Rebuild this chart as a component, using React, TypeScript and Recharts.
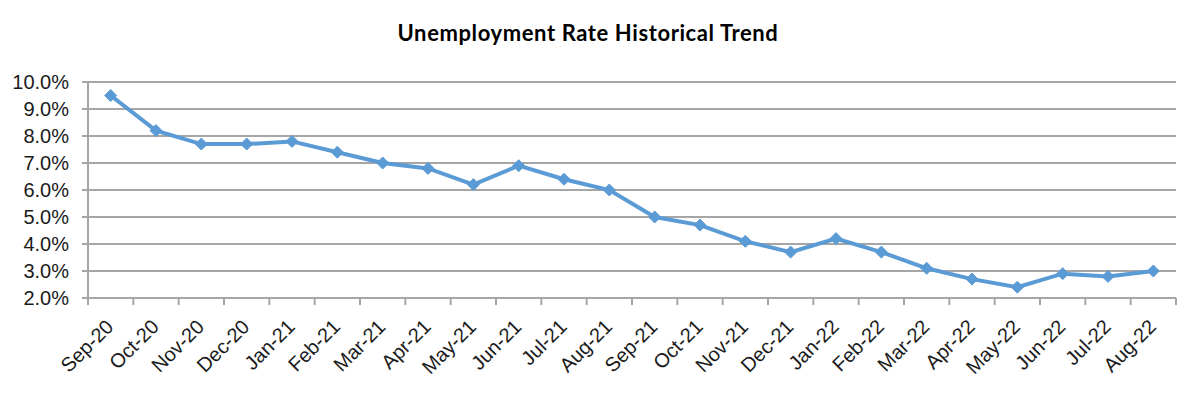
import React from "react";
import { LineChart, Line, XAxis, YAxis, CartesianGrid } from "recharts";

const months = [
  "Sep-20", "Oct-20", "Nov-20", "Dec-20", "Jan-21", "Feb-21", "Mar-21", "Apr-21",
  "May-21", "Jun-21", "Jul-21", "Aug-21", "Sep-21", "Oct-21", "Nov-21", "Dec-21",
  "Jan-22", "Feb-22", "Mar-22", "Apr-22", "May-22", "Jun-22", "Jul-22", "Aug-22",
];
const rates = [
  9.5, 8.2, 7.7, 7.7, 7.8, 7.4, 7.0, 6.8, 6.2, 6.9, 6.4, 6.0,
  5.0, 4.7, 4.1, 3.7, 4.2, 3.7, 3.1, 2.7, 2.4, 2.9, 2.8, 3.0,
];
const yTicks = [2, 3, 4, 5, 6, 7, 8, 9, 10];
const title = "Unemployment Rate Historical Trend";

const data = months.map((m, i) => ({ month: m, rate: rates[i] }));

const W = 1197;
const H = 393;
const LEFT = 88;
const RIGHT = 1176;
const TOP = 82;
const BOTTOM = 298;
const BAND = (RIGHT - LEFT) / months.length;
const GRID = "#a6a6a6";
const BLUE = "#5b9bd5";
const FONT = "'Liberation Sans', Arial, sans-serif";

const XTick = (props: any) => {
  const { x, y, payload, index } = props;
  const ax = x + 4;
  const ay = y + 30;
  return (
    <g>
      <line x1={x - BAND / 2} x2={x - BAND / 2} y1={y} y2={y + 7} stroke={GRID} strokeWidth={2} />
      {index === months.length - 1 && (
        <line x1={x + BAND / 2} x2={x + BAND / 2} y1={y} y2={y + 7} stroke={GRID} strokeWidth={2} />
      )}
      <text
        x={ax}
        y={ay}
        textAnchor="end"
        transform={`rotate(-45, ${ax}, ${ay})`}
        fontSize={20}
        fontFamily={FONT}
        fill="#1a1a1a"
      >
        {payload.value}
      </text>
    </g>
  );
};

const Diamond = (props: any) => {
  const { cx, cy } = props;
  if (cx == null || cy == null) return null;
  const r = 6;
  return (
    <polygon
      points={`${cx},${cy - r} ${cx + r},${cy} ${cx},${cy + r} ${cx - r},${cy}`}
      fill={BLUE}
      stroke={BLUE}
      strokeWidth={1}
    />
  );
};

export default function App() {
  return (
    <div style={{ position: "absolute", left: 0, top: 0, width: W, height: H, background: "#fff" }}>
      <div
        style={{
          position: "absolute",
          left: 0,
          top: 21,
          width: 1176,
          textAlign: "center",
          fontFamily: "Lato, 'Open Sans', sans-serif",
          fontWeight: 700,
          fontSize: 22,
          letterSpacing: "0.6px",
          lineHeight: "24px",
          color: "#000",
        }}
      >
        {title}
      </div>
      <LineChart
        width={W}
        height={H}
        data={data}
        margin={{ top: TOP, right: W - RIGHT, left: 0, bottom: 0 }}
      >
        <CartesianGrid horizontal vertical={false} stroke={GRID} strokeWidth={2} />
        <XAxis
          dataKey="month"
          height={H - BOTTOM}
          padding={{ left: BAND / 2, right: BAND / 2 }}
          axisLine={{ stroke: GRID, strokeWidth: 2 }}
          tickLine={false}
          tickSize={0}
          tickMargin={0}
          interval={0}
          tick={<XTick />}
        />
        <YAxis
          width={LEFT}
          domain={[2, 10]}
          ticks={yTicks}
          interval={0}
          axisLine={{ stroke: GRID, strokeWidth: 2 }}
          tickLine={{ stroke: GRID, strokeWidth: 2 }}
          tickSize={6}
          tickMargin={13}
          tickFormatter={(v: number) => `${v.toFixed(1)}%`}
          tick={{ fontSize: 20, fontFamily: FONT, fill: "#1a1a1a" }}
        />
        <Line
          type="linear"
          dataKey="rate"
          stroke={BLUE}
          strokeWidth={4}
          dot={<Diamond />}
          activeDot={false}
          isAnimationActive={false}
        />
      </LineChart>
    </div>
  );
}
